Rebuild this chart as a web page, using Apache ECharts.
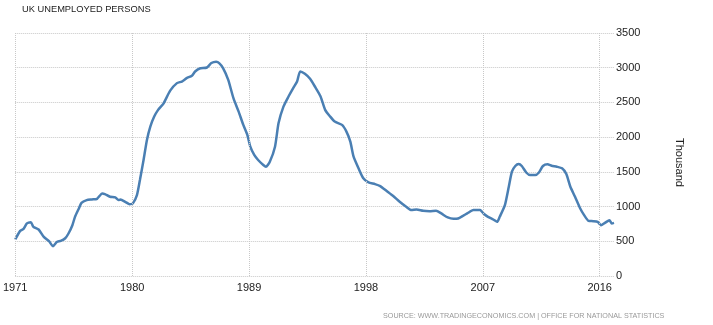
<!DOCTYPE html>
<html>
<head>
<meta charset="utf-8">
<script src="https://cdn.jsdelivr.net/npm/echarts@6/dist/echarts.min.js"></script>
<style>
  html, body { margin: 0; padding: 0; background: #fff; }
  #chart { width: 713px; height: 325px; }
</style>
</head>
<body>
<div id="chart"></div>
<script>
// positions (fractional years) and values in thousands
var years = [
  1971.0, 1971.38, 1971.64, 1971.9, 1972.2, 1972.4, 1972.8, 1973.2, 1973.6, 1973.9,
  1974.2, 1974.5, 1974.85, 1975.1, 1975.4, 1975.6, 1975.9, 1976.1, 1976.5, 1976.9,
  1977.3, 1977.7, 1977.9, 1978.3, 1978.7, 1978.95, 1979.1, 1979.5, 1979.8, 1980.05,
  1980.37, 1980.6, 1980.88, 1981.14, 1981.4, 1981.7, 1982.0, 1982.4, 1982.93, 1983.45,
  1983.83, 1984.2, 1984.6, 1984.85, 1985.2, 1985.76, 1986.1, 1986.47, 1986.7, 1987.0,
  1987.4, 1987.8, 1988.2, 1988.56, 1988.87, 1989.1, 1989.4, 1989.7, 1990.1, 1990.3,
  1990.6, 1991.0, 1991.27, 1991.65, 1992.04, 1992.4, 1992.7, 1992.94, 1993.3, 1993.7,
  1994.1, 1994.5, 1994.86, 1995.25, 1995.6, 1996.16, 1996.5, 1996.8, 1997.05, 1997.43,
  1997.8, 1998.2, 1998.7, 1999.1, 1999.6, 2000.1, 2000.6, 2001.1, 2001.5, 2001.9,
  2002.4, 2002.9, 2003.4, 2003.8, 2004.3, 2004.74, 2005.1, 2005.5, 2005.8, 2006.27,
  2006.8, 2007.05, 2007.4, 2007.8, 2008.1, 2008.3, 2008.7, 2009.0, 2009.24, 2009.5,
  2009.76, 2010.0, 2010.36, 2010.65, 2011.04, 2011.3, 2011.63, 2011.98, 2012.3, 2012.7,
  2013.1, 2013.43, 2013.74, 2014.1, 2014.5, 2014.8, 2015.14, 2015.5, 2015.84, 2016.1,
  2016.4, 2016.75, 2016.93, 2017.1
];
var unemployed = [
  526, 650, 679, 757, 775, 708, 670, 563, 501, 429,
  491, 505, 544, 612, 732, 852, 973, 1054, 1093, 1103,
  1112, 1190, 1180, 1141, 1132, 1093, 1103, 1064, 1035, 1045,
  1165, 1382, 1671, 1960, 2152, 2296, 2393, 2480, 2670, 2778,
  2801, 2850, 2884, 2946, 2989, 3003, 3067, 3086, 3067, 2995,
  2826, 2561, 2368, 2176, 2032, 1863, 1743, 1671, 1599, 1574,
  1646, 1863, 2200, 2440, 2585, 2706, 2801, 2946, 2912, 2840,
  2720, 2590, 2393, 2296, 2224, 2176, 2079, 1935, 1718, 1551,
  1407, 1348, 1324, 1295, 1223, 1151, 1069, 997, 949, 958,
  939, 934, 939, 901, 843, 823, 829, 870, 901, 949,
  949, 901, 852, 814, 780, 852, 1021, 1285, 1502, 1584,
  1613, 1584, 1487, 1454, 1454, 1487, 1584, 1609, 1588, 1574,
  1551, 1469, 1285, 1141, 973, 877, 794, 790, 780, 732,
  765, 804, 757, 765
];
var tickYears = [1971, 1980, 1989, 1998, 2007, 2016];

var chart = echarts.init(document.getElementById('chart'));

var seriesData = years.map(function (y, i) {
  return [y, unemployed[i]];
});

var option = {
  backgroundColor: '#fff',
  animation: false,
  title: {
    text: 'UK UNEMPLOYED PERSONS',
    left: 17,
    top: 0,
    textStyle: {
      fontFamily: 'Liberation Sans, Arial, sans-serif',
      fontSize: 9.3,
      fontWeight: 'normal',
      color: '#222'
    }
  },
  graphic: [{
    type: 'text',
    left: 383,
    top: 313,
    style: {
      text: 'SOURCE: WWW.TRADINGECONOMICS.COM | OFFICE FOR NATIONAL STATISTICS',
      font: '7.2px "Liberation Sans", Arial, sans-serif',
      fill: '#999'
    }
  }],
  grid: {
    left: 15,
    right: 99,
    top: 33,
    bottom: 49
  },
  xAxis: {
    type: 'value',
    min: 1971,
    max: 2017.1,
    interval: 9,
    axisLine: { show: false },
    axisTick: { show: false },
    splitLine: { show: false },
    axisLabel: {
      margin: 6,
      fontFamily: 'Liberation Sans, Arial, sans-serif',
      fontSize: 11,
      color: '#222',
      formatter: function (v) {
        return tickYears.indexOf(Math.round(v * 100) / 100) >= 0 ? String(v) : '';
      }
    }
  },
  yAxis: {
    type: 'value',
    position: 'right',
    min: 0,
    max: 3500,
    interval: 500,
    name: 'Thousand',
    nameLocation: 'middle',
    nameRotate: -90,
    nameGap: 60,
    nameTextStyle: {
      fontFamily: 'Liberation Sans, Arial, sans-serif',
      fontSize: 11,
      color: '#222',
      padding: [0, 0, 0, 16]
    },
    axisLine: { show: false },
    axisTick: { show: false },
    axisLabel: {
      margin: 2,
      fontFamily: 'Liberation Sans, Arial, sans-serif',
      fontSize: 11,
      color: '#222',
      formatter: function (v) { return String(v); }
    },
    splitLine: {
      lineStyle: { color: '#c8c8c8', type: 'dotted', width: 1 }
    }
  },
  series: [{
    type: 'line',
    data: seriesData,
    showSymbol: false,
    smooth: 0.2,
    lineStyle: { color: '#4a7fb3', width: 2.5 },
    markLine: {
      silent: true,
      symbol: 'none',
      label: { show: false },
      lineStyle: { color: '#c8c8c8', type: 'dotted', width: 1 },
      data: tickYears.map(function (y) { return { xAxis: y }; })
    }
  }]
};

chart.setOption(option);
</script>
</body>
</html>
